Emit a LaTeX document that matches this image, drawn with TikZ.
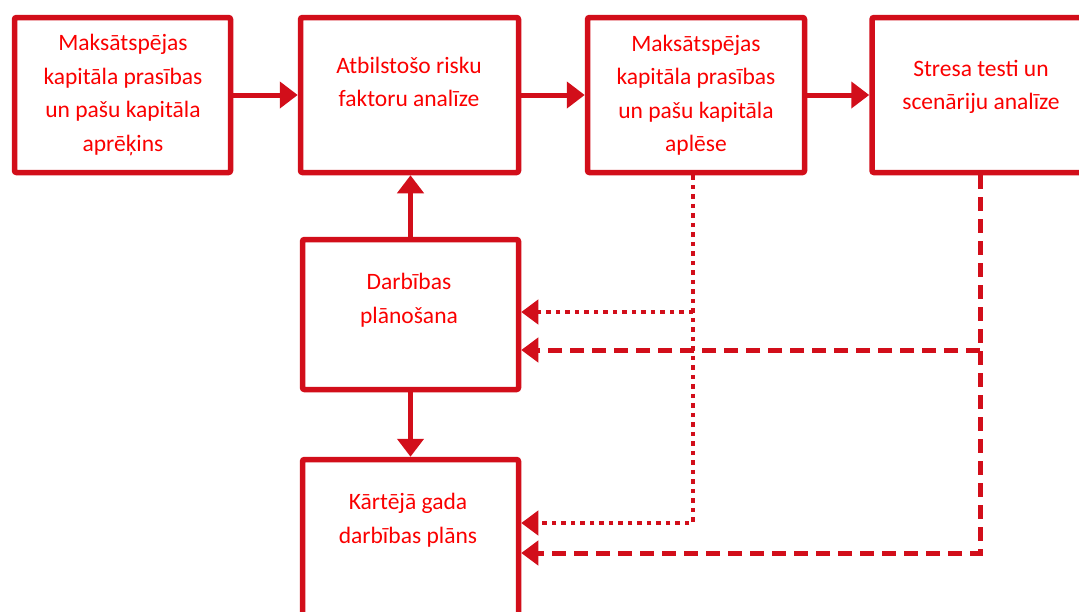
\documentclass[tikz,border=0pt]{standalone}
\usepackage{fontspec}
\setmainfont{Carlito}
\usetikzlibrary{arrows.meta}
\definecolor{boxred}{RGB}{210,14,26}
\definecolor{txtred}{RGB}{250,0,0}

\begin{document}
\begin{tikzpicture}[
		x=1pt, y=-1pt,
		box/.style={
			draw=boxred,
			line width=5.5pt,
			rounded corners=2pt,
			minimum width=216pt,
			minimum height=155pt,
			inner sep=0pt
		},
		lbl/.style={
			text=txtred,
			align=center,
			font=\fontsize{23.5}{33.5}\selectfont
		},
		arrow/.style={draw=boxred, line width=5pt, -{Triangle[length=18pt, width=26pt]}},
		dotarrow/.style={draw=boxred, line width=4.5pt, dash pattern=on 4.5pt off 5pt, -{Triangle[length=17pt, width=24pt]}},
		dasharrow/.style={draw=boxred, line width=5pt, dash pattern=on 14pt off 8pt, -{Triangle[length=17pt, width=24pt]}}
		]
		\useasboundingbox (0,0) rectangle (1079,611);
		
		% top row
		\node[box] (calc) at (122.5,95) {};
		\node[box, minimum width=218pt] (risk) at (409.5,95) {};
		\node[box, minimum width=217pt] (est) at (696,95) {};
		\node[box, minimum width=214pt] (stress) at (979,95) {};
		
		% planning column
		\node[box, minimum height=150pt] (plan) at (410.5,314.5) {};
		\node[box, minimum height=160pt] (year) at (410.5,539.5) {};
		
		\node[lbl] (tcalc) at (123,95) {Maksātspējas\\kapitāla prasības\\un pašu kapitāla\\aprēķins};
		\node[lbl] (trisk) at (409,82) {Atbilstošo risku\\faktoru analīze};
		\node[lbl] (test) at (696,95) {Maksātspējas\\kapitāla prasības\\un pašu kapitāla\\aplēse};
		\node[lbl] (tstress) at (981,87) {Stresa testi un\\scenāriju analīze};
		\node[lbl] (tplan) at (409,300) {Darbības\\plānošana};
		\node[lbl] (tyear) at (408,520) {Kārtējā gada\\darbības plāns};
		
		\draw[arrow] (calc) -- (risk);
		\draw[arrow] (risk) -- (est);
		\draw[arrow] (est) -- (stress);
		\draw[arrow] (plan.north) -- (plan.north |- risk.south);
		\draw[arrow] (plan.south) -- (plan.south |- year.north);
		
		% feedback from the estimate
		\coordinate (estout) at ([xshift=-3pt]est.south);
		\coordinate (pdot) at ([yshift=2.5pt]plan.east);
		\draw[dotarrow] (estout) |- ([yshift=16.5pt]year.east);
		\draw[dotarrow] (estout |- pdot) -- (pdot);
		
		% feedback from the stress tests
		\coordinate (stressout) at ([xshift=1pt]stress.south);
		\coordinate (pdash) at ([yshift=-35.5pt]plan.east);
		\draw[dasharrow] (stressout) |- ([yshift=-13.5pt]year.east);
		\draw[dasharrow] (stressout |- pdash) -- (pdash);
		
	\end{tikzpicture}
\end{document}
